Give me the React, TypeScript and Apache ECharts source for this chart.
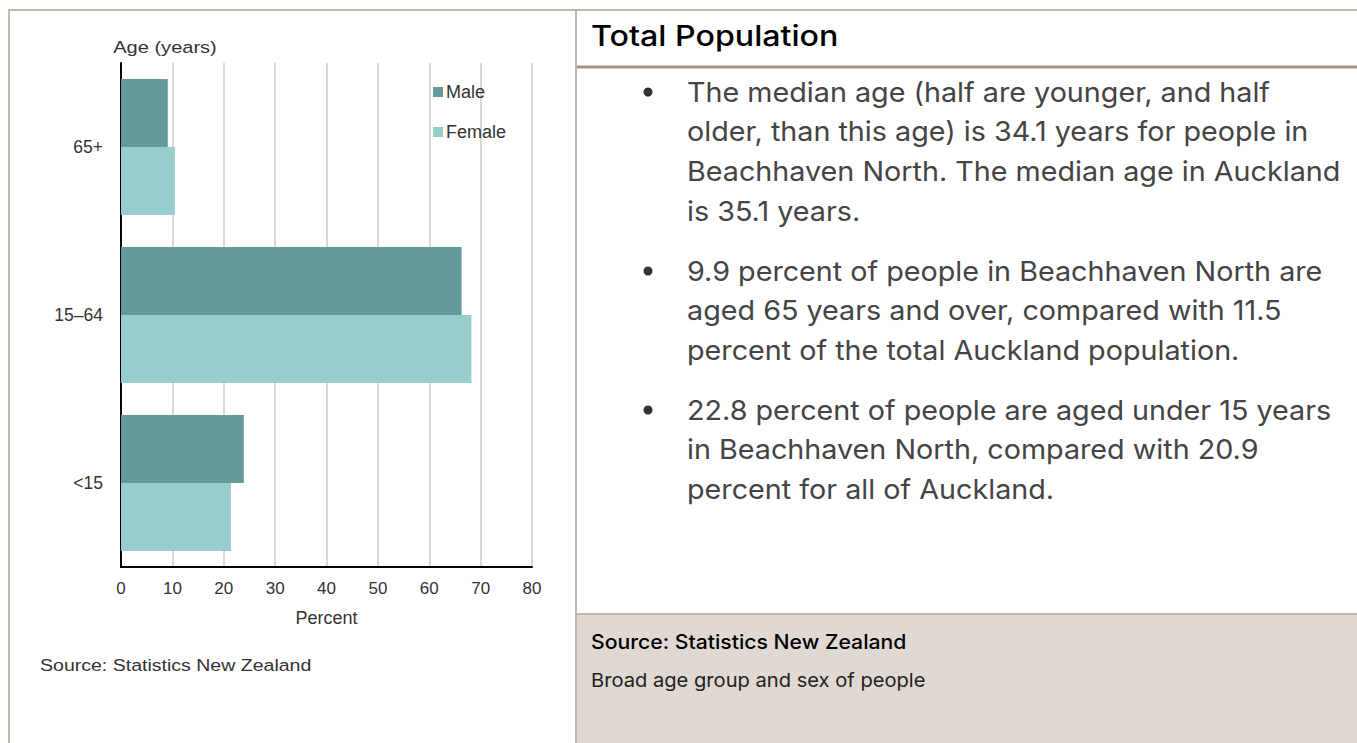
import React, { useEffect, useRef } from "react";
import * as echarts from "echarts";

const ageGroups = ["65+", "15–64", "<15"];
const maleValues = [9.1, 66.3, 23.9];
const femaleValues = [10.5, 68.2, 21.4];
const percentTicks = [0, 80, 10];

const headerTitle = "Total Population";
const bulletParagraphs = [
  [
    "The median age (half are younger, and half",
    "older, than this age) is 34.1 years for people in",
    "Beachhaven North. The median age in Auckland",
    "is 35.1 years.",
  ],
  [
    "9.9 percent of people in Beachhaven North are",
    "aged 65 years and over, compared with 11.5",
    "percent of the total Auckland population.",
  ],
  [
    "22.8 percent of people are aged under 15 years",
    "in Beachhaven North, compared with 20.9",
    "percent for all of Auckland.",
  ],
];
const footerSource = "Source: Statistics New Zealand";
const footerCaption = "Broad age group and sex of people";
const chartSource = "Source: Statistics New Zealand";

const W = 1357;
const H = 743;

export default function App() {
  const ref = useRef<HTMLDivElement>(null);
  useEffect(() => {
    if (!ref.current) return;
    const chart = echarts.init(ref.current, undefined, { renderer: "svg" });
    const chartFont = "'Liberation Sans', Arial, sans-serif";
    const textFont = "Inter, 'Noto Sans', sans-serif";
    const border = "#c2b6a8";

    const graphics: any[] = [];
    // table borders
    graphics.push({ type: "line", shape: { x1: 8, y1: 10, x2: W, y2: 10 }, style: { stroke: border, lineWidth: 2 } });
    graphics.push({ type: "line", shape: { x1: 9, y1: 10, x2: 9, y2: H }, style: { stroke: border, lineWidth: 2 } });
    graphics.push({ type: "line", shape: { x1: 576, y1: 10, x2: 576, y2: H }, style: { stroke: border, lineWidth: 2 } });
    // footer
    graphics.push({ type: "rect", shape: { x: 577, y: 614, width: W - 577, height: H - 614 }, style: { fill: "#e0d9d3" } });
    graphics.push({ type: "line", shape: { x1: 577, y1: 614, x2: W, y2: 614 }, style: { stroke: border, lineWidth: 2 } });
    // header underline
    graphics.push({ type: "line", shape: { x1: 577, y1: 67, x2: W, y2: 67 }, style: { stroke: "#a89580", lineWidth: 3 } });
    graphics.push({
      type: "text", x: 591, y: 36, scaleX: 1.15,
      style: { text: headerTitle, font: `500 28px ${textFont}`, fill: "#000", verticalAlign: "middle", align: "left" },
    });
    const starts = [92, 271, 410];
    const lineH = 39.6;
    bulletParagraphs.forEach((lines, pi) => {
      graphics.push({ type: "circle", shape: { cx: 648, cy: starts[pi], r: 4.5 }, style: { fill: "#333" } });
      lines.forEach((t, li) => {
        graphics.push({
          type: "text", x: 687, y: starts[pi] + li * lineH, scaleX: 1.045,
          style: { text: t, font: `400 27.5px ${textFont}`, fill: "#444", verticalAlign: "middle", align: "left" },
        });
      });
    });
    graphics.push({
      type: "text", x: 591, y: 642, scaleX: 1.06,
      style: { text: footerSource, font: `500 20px ${textFont}`, fill: "#000", verticalAlign: "middle", align: "left" },
    });
    graphics.push({
      type: "text", x: 591, y: 680, scaleX: 1.06,
      style: { text: footerCaption, font: `400 19px ${textFont}`, fill: "#222", verticalAlign: "middle", align: "left" },
    });
    // chart texts
    graphics.push({
      type: "text", x: 165, y: 47, scaleX: 1.18,
      style: { text: "Age (years)", font: `17px ${chartFont}`, fill: "#333", verticalAlign: "middle", align: "center" },
    });
    graphics.push({
      type: "text", x: 40, y: 665, scaleX: 1.15,
      style: { text: chartSource, font: `17px ${chartFont}`, fill: "#333", verticalAlign: "middle", align: "left" },
    });

    chart.setOption({
      animation: false,
      backgroundColor: "#fff",
      textStyle: { fontFamily: chartFont },
      grid: { left: 121, right: W - 532, top: 63, bottom: H - 567, containLabel: false },
      legend: {
        orient: "vertical",
        left: 433,
        top: 83,
        itemGap: 22,
        itemWidth: 10,
        itemHeight: 10,
        padding: 0,
        icon: "rect",
        textStyle: { fontSize: 18, color: "#333", fontFamily: chartFont, padding: [0, 0, 0, -2] },
        data: ["Male", "Female"],
      },
      xAxis: {
        type: "value",
        min: percentTicks[0],
        max: percentTicks[1],
        interval: percentTicks[2],
        name: "Percent",
        nameLocation: "middle",
        nameGap: 42,
        nameTextStyle: { fontSize: 18, color: "#333" },
        axisLine: { show: true, lineStyle: { color: "#000", width: 2 } },
        axisTick: { show: false },
        axisLabel: { fontSize: 17, color: "#333", margin: 13 },
        splitLine: { show: true, lineStyle: { color: "#d9d9d9", width: 2 } },
      },
      yAxis: {
        type: "category",
        inverse: true,
        data: ageGroups,
        axisLine: { show: true, lineStyle: { color: "#000", width: 2 } },
        axisTick: { show: false },
        axisLabel: { fontSize: 17.5, color: "#333", margin: 18 },
        splitLine: { show: false },
      },
      series: [
        {
          name: "Male",
          type: "bar",
          data: maleValues,
          itemStyle: { color: "#669999" },
          barGap: "0%",
          barCategoryGap: "19%",
        },
        {
          name: "Female",
          type: "bar",
          data: femaleValues,
          itemStyle: { color: "#99cccc" },
          barGap: "0%",
          barCategoryGap: "19%",
        },
      ],
      graphic: graphics,
    });
    return () => chart.dispose();
  }, []);
  return <div ref={ref} style={{ position: "fixed", left: 0, top: 0, width: W, height: H }} />;
}
